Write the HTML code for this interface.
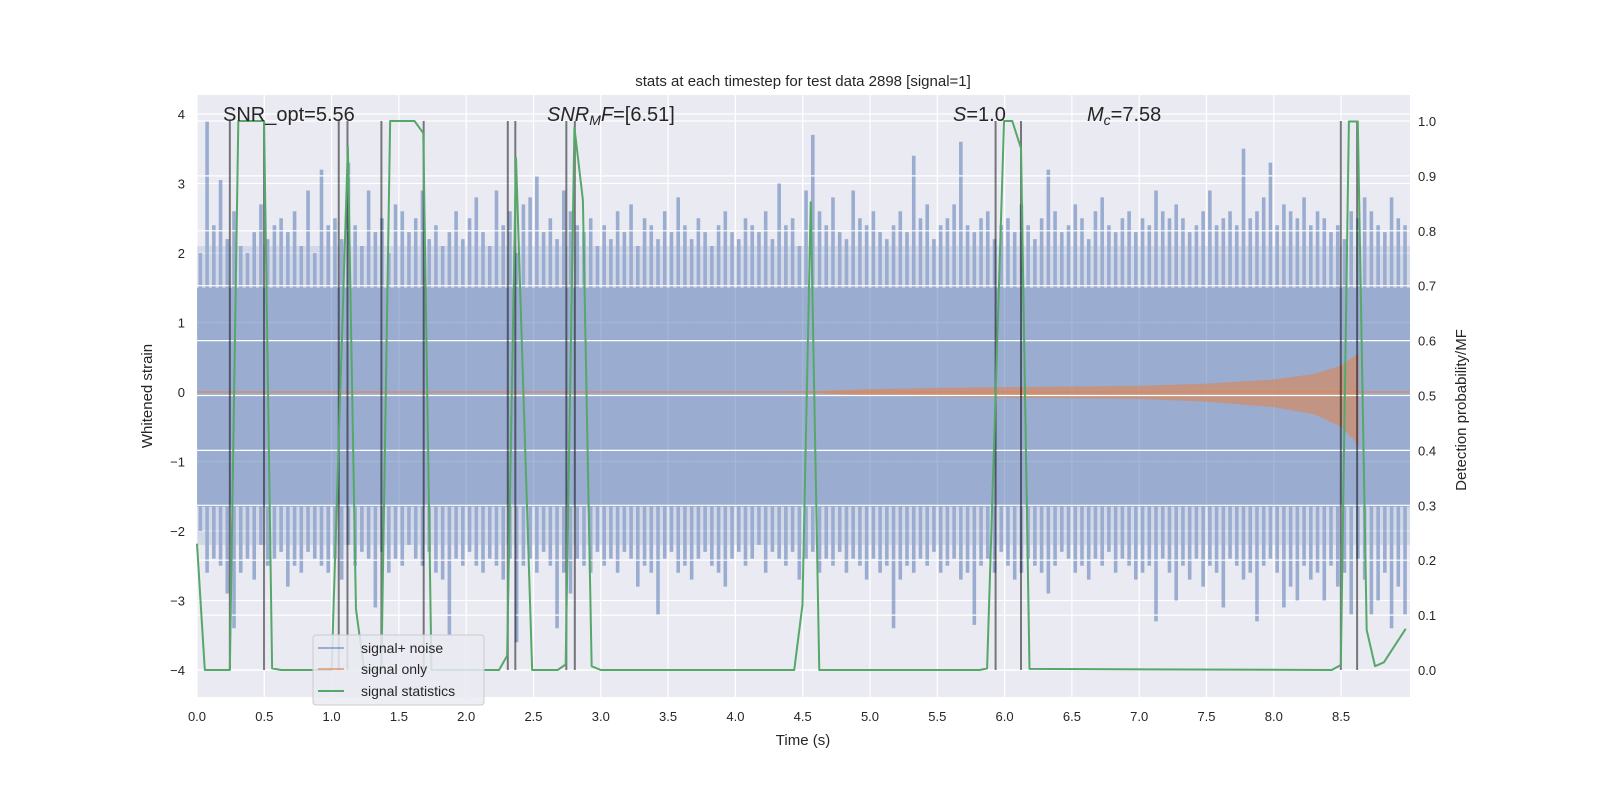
<!DOCTYPE html>
<html><head><meta charset="utf-8"><style>
body{margin:0;background:#fff;}
svg{display:block;font-family:"Liberation Sans","DejaVu Sans",sans-serif;}
</style></head><body>
<svg id="chart" width="1600" height="800" viewBox="0 0 1600 800" xmlns="http://www.w3.org/2000/svg">
<rect x="0" y="0" width="1600" height="800" fill="#fff"/>
<rect x="197" y="95" width="1213" height="602" fill="#EAEAF2"/>
<g id="gridL"></g>
<g id="noise" opacity="0.5"></g>
<g id="chirp"></g>
<g id="gridR"></g>
<g id="vlines"></g>
<g id="green"></g>
<g id="ticks" font-size="13" fill="#262626"></g>
<text x="803" y="86" font-size="15" text-anchor="middle" fill="#262626">stats at each timestep for test data 2898 [signal=1]</text>
<text x="803" y="745" font-size="15" text-anchor="middle" fill="#262626">Time (s)</text>
<text transform="translate(152,396) rotate(-90)" font-size="15" text-anchor="middle" fill="#262626">Whitened strain</text>
<text transform="translate(1466,410) rotate(-90)" font-size="15" text-anchor="middle" fill="#262626">Detection probability/MF</text>
<g font-size="20" fill="#262626">
<text x="223" y="121">SNR_opt=5.56</text>
<text x="547" y="121"><tspan font-style="italic">SNR</tspan><tspan font-style="italic" font-size="14" dy="4">M</tspan><tspan font-style="italic" dy="-4">F</tspan>=[6.51]</text>
<text x="953" y="121"><tspan font-style="italic">S</tspan>=1.0</text>
<text x="1087" y="121"><tspan font-style="italic">M</tspan><tspan font-style="italic" font-size="14" dy="4">c</tspan><tspan dy="-4">=7.58</tspan></text>
</g>
<g>
<rect x="313" y="635" width="171" height="70" rx="3" fill="#EAEAF2" fill-opacity="0.85" stroke="#cccccc"/>
<line x1="318" y1="648" x2="344" y2="648" stroke="#4C72B0" stroke-opacity="0.5" stroke-width="2"/>
<text x="361" y="653" font-size="14" fill="#262626">signal+ noise</text>
<line x1="318" y1="669" x2="344" y2="669" stroke="#DD8452" stroke-opacity="0.6" stroke-width="2"/>
<text x="361" y="674" font-size="14" fill="#262626">signal only</text>
<line x1="318" y1="691" x2="344" y2="691" stroke="#55A868" stroke-width="2"/>
<text x="361" y="696" font-size="14" fill="#262626">signal statistics</text>
</g>
</svg>
<script>
// ---- data ----
const noiseTop = [2.0,3.9,2.4,3.05,2.2,2.6,2.1,2.0,2.3,2.7,2.2,2.4,2.5,2.3,2.6,2.1,2.9,2.0,3.2,2.4,
2.5,2.2,3.3,2.4,2.1,2.9,2.3,2.5,2.0,2.7,2.6,2.3,2.5,2.9,2.2,2.4,2.1,2.3,2.6,2.2,
2.5,2.8,2.3,2.1,2.9,2.4,2.6,2.0,2.7,2.8,3.1,2.3,2.5,2.2,2.9,2.6,2.4,2.3,2.5,2.1,
2.4,2.2,2.6,2.3,2.7,2.1,2.5,2.4,2.2,2.6,2.3,2.8,2.4,2.2,2.5,2.3,2.1,2.4,2.6,2.3,
2.2,2.5,2.4,2.3,2.6,2.2,3.0,2.4,2.5,2.1,2.9,3.7,2.6,2.4,2.8,2.3,2.2,2.9,2.5,2.4,
2.6,2.3,2.2,2.4,2.6,2.3,3.4,2.5,2.7,2.2,2.4,2.5,2.7,3.6,2.4,2.3,2.5,2.6,2.2,2.4,
2.5,2.3,2.7,2.4,2.2,2.5,3.2,2.6,2.3,2.4,2.7,2.5,2.2,2.6,2.8,2.4,2.3,2.5,2.6,2.3,
2.5,2.4,2.9,2.6,2.5,2.7,2.5,2.3,2.4,2.6,2.9,2.4,2.5,2.6,2.4,3.5,2.5,2.6,2.8,3.3,
2.4,2.7,2.6,2.5,2.8,2.4,2.6,2.5,2.3,2.4,2.2,2.6,2.5,2.8,2.6,2.4,2.3,2.8,2.5,2.4];
const noiseBot = [-2.0,-2.6,-2.4,-2.5,-2.9,-3.4,-2.6,-2.4,-2.7,-2.2,-2.5,-2.4,-2.3,-2.8,-2.5,-2.6,-2.3,-2.4,-2.5,-2.6,
-2.4,-2.7,-2.2,-2.5,-2.3,-2.4,-3.1,-2.3,-2.6,-2.4,-2.5,-2.2,-2.4,-2.5,-2.3,-2.6,-2.7,-3.5,-2.4,-2.5,
-2.3,-2.5,-2.6,-2.4,-2.5,-2.7,-2.4,-3.6,-2.5,-2.4,-2.6,-2.3,-2.5,-3.4,-2.6,-2.9,-2.4,-2.5,-2.6,-2.3,
-2.5,-2.4,-2.6,-2.3,-2.4,-2.8,-2.5,-2.6,-3.2,-2.4,-2.3,-2.6,-2.5,-2.7,-2.4,-2.3,-2.5,-2.6,-2.8,-2.4,
-2.3,-2.5,-2.4,-2.2,-2.6,-2.3,-2.4,-2.5,-2.3,-2.7,-2.4,-2.3,-2.6,-2.4,-2.5,-2.3,-2.6,-2.4,-2.5,-2.7,
-2.4,-2.6,-2.5,-3.4,-2.7,-2.5,-2.6,-2.4,-2.5,-2.3,-2.6,-2.5,-2.4,-2.7,-2.6,-3.35,-2.5,-2.4,-2.6,-2.3,
-2.5,-2.7,-2.6,-2.4,-2.5,-2.6,-2.9,-2.5,-2.3,-2.4,-2.6,-2.5,-2.7,-2.4,-2.5,-2.3,-2.6,-2.4,-2.5,-2.7,
-2.6,-2.5,-3.3,-2.4,-2.6,-3.0,-2.5,-2.7,-2.4,-2.8,-2.5,-2.6,-3.1,-2.4,-2.5,-2.7,-2.6,-3.3,-2.5,-2.4,
-2.6,-3.1,-2.8,-3.0,-2.5,-2.7,-2.6,-3.0,-2.5,-2.8,-2.6,-3.2,-2.4,-2.7,-3.2,-3.0,-2.6,-3.4,-2.8,-3.2];
const noiseStep = 0.05;
const chirpT  = [4.4, 5.0, 5.5, 6.0, 6.5, 7.0, 7.5, 8.0, 8.3, 8.5, 8.6, 8.63];
const chirpUp = [0.0, 0.04,0.06,0.07,0.08,0.09,0.12,0.18,0.26,0.38,0.52,0.55];
const chirpLo = [0.0,-0.05,-0.07,-0.08,-0.09,-0.1,-0.14,-0.22,-0.32,-0.5,-0.7,-0.8];
const statT = [0,0.058,0.244,0.307,0.498,0.558,0.626,1.0,1.121,1.181,1.242,1.37,1.435,1.616,1.681,1.742,2.244,2.304,2.37,2.49,2.679,2.739,2.804,2.867,2.932,3.0,4.437,4.498,4.56,4.623,5.815,5.87,5.996,6.057,6.122,6.185,8.43,8.498,8.558,8.624,8.69,8.752,8.818,8.9,8.98];
const statV = [0.23,0,0,1.0,1.0,0.003,0,0,0.953,0.111,0,0,1.0,1.0,0.978,0,0,0.026,0.933,0,0,0.01,0.988,0.856,0.007,0,0,0.118,0.852,0,0,0.003,1.0,1.0,0.95,0.002,0,0.009,0.999,0.999,0.073,0.007,0.014,0.045,0.075];
const markerT = [0.244,0.498,1.053,1.118,1.37,1.684,2.309,2.365,2.744,2.807,5.933,6.122,8.498,8.619];
const xTicks = [0,0.5,1,1.5,2,2.5,3,3.5,4,4.5,5,5.5,6,6.5,7,7.5,8,8.5];
const yTicksL = [4,3,2,1,0,-1,-2,-3,-4];
const yTicksR = [0,0.1,0.2,0.3,0.4,0.5,0.6,0.7,0.8,0.9,1.0];

// ---- axes ----
const X0=197, X1=1410, Y0=95, Y1=697;
const sx = t => 197 + t*134.6;
const syL = v => 392 - v*69.5;
const syR = v => 670 - v*549;
const NS="http://www.w3.org/2000/svg";
function mk(tag, attrs, parent){const e=document.createElementNS(NS,tag);for(const k in attrs)e.setAttribute(k,attrs[k]);parent.appendChild(e);return e;}
const gL=document.getElementById('gridL'), gR=document.getElementById('gridR');
xTicks.forEach(t=>{
  const l=mk('line',{x1:sx(t),x2:sx(t),y1:Y0,y2:Y1,stroke:'#fff','stroke-width':1.2},gL);
  
  
});
yTicksL.forEach(v=>{
  const l=mk('line',{x1:X0,x2:X1,y1:syL(v),y2:syL(v),stroke:'#fff','stroke-width':1.2},gL);
  
  
});
yTicksR.forEach(v=>{
  const l=mk('line',{x1:X0,x2:X1,y1:syR(v),y2:syR(v),stroke:'#fff','stroke-width':1.2},gR);
  
  
});
// noise
const gN=document.getElementById('noise');
const band=mk('rect',{x:X0,y:syL(1.5),width:X1-X0,height:syL(-1.65)-syL(1.5),fill:'#4C72B0'},gN);


const band2=mk('rect',{x:X0,y:syL(2.1),width:X1-X0,height:syL(-2.2)-syL(2.1),fill:'#4C72B0','fill-opacity':0.3},gN);


noiseTop.forEach((v,i)=>{
  const t=i*noiseStep+noiseStep*0.5;
  const b=mk('line',{x1:sx(t),x2:sx(t),y1:syL(v),y2:syL(noiseBot[i]),stroke:'#4C72B0','stroke-width':3.6},gN);
  
  
});
// chirp
const gC=document.getElementById('chirp');
const base=mk('line',{x1:X0,x2:X1,y1:syL(0),y2:syL(0),stroke:'#DD8452','stroke-opacity':0.6,'stroke-width':2},gC);


let pts=chirpT.map((t,i)=>sx(t)+','+syL(chirpUp[i]));
for(let i=chirpT.length-1;i>=0;i--)pts.push(sx(chirpT[i])+','+syL(chirpLo[i]));
const cp=mk('polygon',{points:pts.join(' '),fill:'#DD8452','fill-opacity':0.6},gC);


// markers
const gV=document.getElementById('vlines');
markerT.forEach(t=>{
  const l=mk('line',{x1:sx(t),x2:sx(t),y1:syR(1.0),y2:syR(0),stroke:'#000','stroke-opacity':0.5,'stroke-width':2},gV);
  
  
});
// green
const gG=document.getElementById('green');
const gl=mk('polyline',{points:statT.map((t,i)=>sx(t)+','+syR(statV[i])).join(' '),fill:'none',stroke:'#55A868','stroke-width':2,'stroke-linejoin':'round'},gG);


// ticks
const gT=document.getElementById('ticks');
xTicks.forEach(t=>{
  const e=mk('text',{x:sx(t),y:721,'text-anchor':'middle'},gT);e.textContent=t.toFixed(1);
  
  
});
yTicksL.forEach(v=>{
  const e=mk('text',{x:185,y:syL(v)+5,'text-anchor':'end'},gT);e.textContent=(v<0?'\u2212'+(-v):v);
  
  
});
yTicksR.forEach(v=>{
  const e=mk('text',{x:1418,y:syR(v)+5,'text-anchor':'start'},gT);e.textContent=v.toFixed(1);
  
  
});
</script>
</body></html>
